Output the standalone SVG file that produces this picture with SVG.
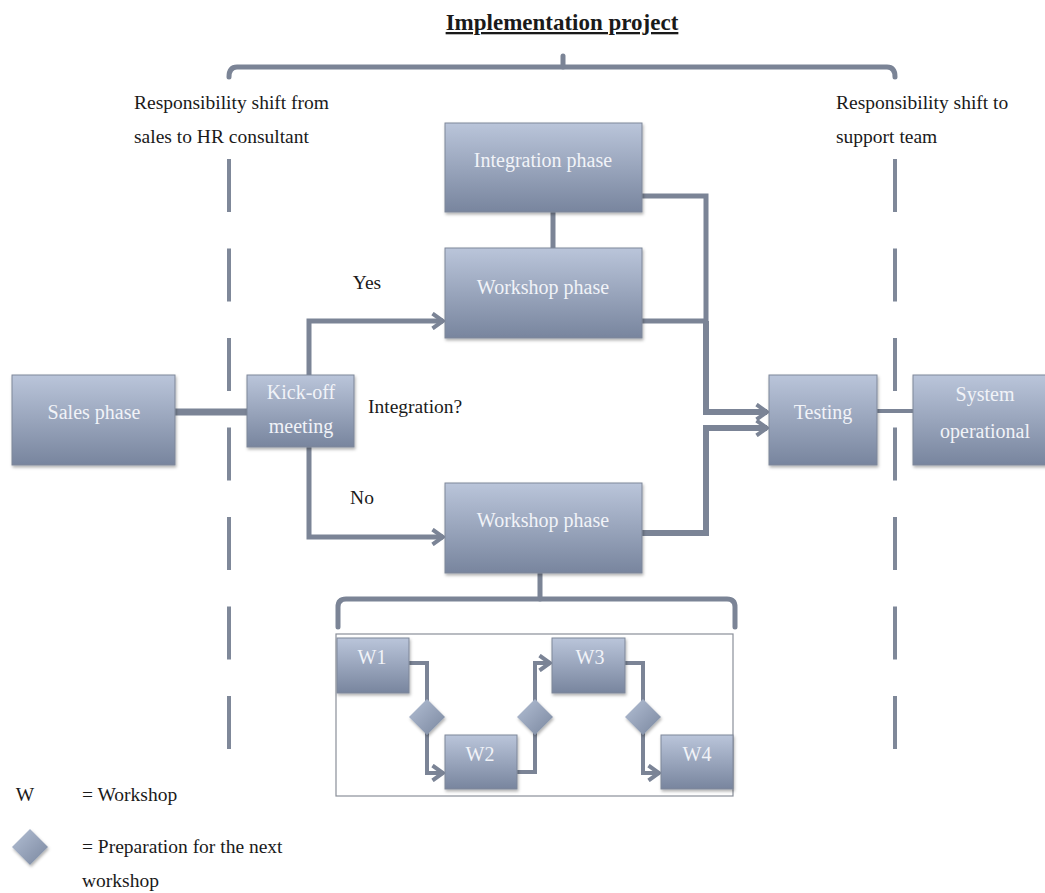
<svg xmlns="http://www.w3.org/2000/svg" width="1045" height="893" viewBox="0 0 1045 893">
<style>
text{font-family:"Liberation Serif","Times New Roman",serif;font-size:19.5px;fill:#1a1a1a}
.bt{fill:#f1f3f8;font-size:20px;text-anchor:middle}
.box{fill:url(#g);stroke:#7f8799;stroke-width:1;filter:url(#sh)}
.dia{fill:url(#gd);filter:url(#sh)}
.c{fill:none;stroke:#7b8496;stroke-width:5;stroke-linejoin:miter}
.ca{fill:none;stroke:#7b8496;stroke-width:5;marker-end:url(#ar)}
.dash{fill:none;stroke:#7f8899;stroke-width:4;stroke-dasharray:53 36.5}
.br{fill:none;stroke:#7b8496;stroke-width:5;stroke-linecap:round}
</style>
<defs>
<linearGradient id="g" x1="0" y1="0" x2="0" y2="1">
<stop offset="0" stop-color="#bac5da"/>
<stop offset="1" stop-color="#78859e"/>
</linearGradient>
<linearGradient id="gd" x1="0" y1="0" x2="1" y2="1">
<stop offset="0" stop-color="#b3bfd4"/>
<stop offset="1" stop-color="#7a879f"/>
</linearGradient>
<filter id="sh" x="-10%" y="-10%" width="125%" height="130%">
<feDropShadow dx="1" dy="2" stdDeviation="1.5" flood-color="#000" flood-opacity="0.3"/>
</filter>
<marker id="ar" markerUnits="userSpaceOnUse" viewBox="0 0 14 18" refX="12" refY="9" markerWidth="14" markerHeight="18" orient="auto">
<path d="M1.5,1.5 L12,9 L1.5,16.5" fill="none" stroke="#7b8496" stroke-width="4" stroke-linejoin="miter"/>
</marker>
</defs>
<rect width="1045" height="893" fill="#ffffff"/>

<g id="title">
<text x="562" y="30" text-anchor="middle" font-weight="bold" text-decoration="underline" style="font-size:23px">Implementation project</text>
</g>

<g id="brackets">
<path class="br" d="M229,77 Q229,67 237,67 H887 Q895,67 895,77"/>
<path class="br" d="M563,67 V56"/>
<path class="br" d="M338,627 V607 Q338,599 346,599 H727 Q735,599 735,607 V627"/>
<path class="br" d="M540,573 V599"/>
</g>

<g id="dividers">
<path class="dash" d="M229,159 V752"/>
<path class="dash" d="M895,159 V752"/>
<text x="134" y="109">Responsibility shift from</text>
<text x="134" y="143">sales to HR consultant</text>
<text x="836" y="109">Responsibility shift to</text>
<text x="836" y="143">support team</text>
</g>

<g id="connectors">
<path class="c" d="M175,412 H247" style="stroke-width:7"/>
<path class="ca" d="M309,375 V321 H443"/>
<path class="ca" d="M309,447 V537 H443"/>
<path class="c" d="M553,212 V248"/>
<path class="c" d="M642,196 H706 V321 H642"/>
<path class="ca" d="M706,321 V412 H767" style="stroke-width:6"/>
<path class="ca" d="M642,533 H706 V428 H767" style="stroke-width:6"/>
<path class="c" d="M877,411 H913" style="stroke-width:4"/>
<path class="ca" d="M409,663 H427 V773 H443" style="stroke-width:4"/>
<path class="ca" d="M517,772 H535 V663 H550" style="stroke-width:4"/>
<path class="ca" d="M625,663 H643 V773 H659" style="stroke-width:4"/>
</g>

<g id="sales"><rect class="box" x="12" y="375" width="163" height="90"/><text class="bt" x="94" y="419">Sales phase</text></g>
<g id="kickoff"><rect class="box" x="247" y="375" width="107" height="72"/><text class="bt" x="301" y="399">Kick-off</text><text class="bt" x="301" y="433">meeting</text></g>
<g id="integration"><rect class="box" x="445" y="123" width="197" height="89"/><text class="bt" x="543" y="167">Integration phase</text></g>
<g id="workshop-yes"><rect class="box" x="445" y="248" width="197" height="90"/><text class="bt" x="543" y="294">Workshop phase</text></g>
<g id="workshop-no"><rect class="box" x="445" y="483" width="197" height="90"/><text class="bt" x="543" y="527">Workshop phase</text></g>
<g id="testing"><rect class="box" x="769" y="375" width="108" height="90"/><text class="bt" x="823" y="419">Testing</text></g>
<g id="system"><rect class="box" x="913" y="375" width="140" height="90"/><text class="bt" x="985" y="401">System</text><text class="bt" x="985" y="438">operational</text></g>

<g id="labels">
<text x="367" y="289" text-anchor="middle">Yes</text>
<text x="368" y="413">Integration?</text>
<text x="362" y="504" text-anchor="middle">No</text>
</g>

<g id="workshops">
<rect x="336" y="634" width="397" height="162" fill="none" stroke="#8a8f99" stroke-width="1.2"/>
<g id="w1"><rect class="box" x="337" y="638" width="72" height="55"/><text class="bt" x="372" y="664">W1</text></g>
<g id="w2"><rect class="box" x="445" y="735" width="72" height="54"/><text class="bt" x="480" y="761">W2</text></g>
<g id="w3"><rect class="box" x="552" y="638" width="73" height="55"/><text class="bt" x="590" y="664">W3</text></g>
<g id="w4"><rect class="box" x="661" y="735" width="72" height="54"/><text class="bt" x="697" y="761">W4</text></g>
<g id="d1"><path class="dia" d="M427,699 L445,717 L427,735 L409,717 Z"/></g>
<g id="d2"><path class="dia" d="M535,699 L553,717 L535,735 L517,717 Z"/></g>
<g id="d3"><path class="dia" d="M643,699 L661,717 L643,735 L625,717 Z"/></g>
</g>

<g id="legend">
<text x="25" y="801" text-anchor="middle">W</text>
<text x="82" y="801">= Workshop</text>
<path class="dia" d="M30,829 L48,847 L30,865 L12,847 Z"/>
<text x="82" y="853">= Preparation for the next</text>
<text x="82" y="887">workshop</text>
</g>
</svg>
